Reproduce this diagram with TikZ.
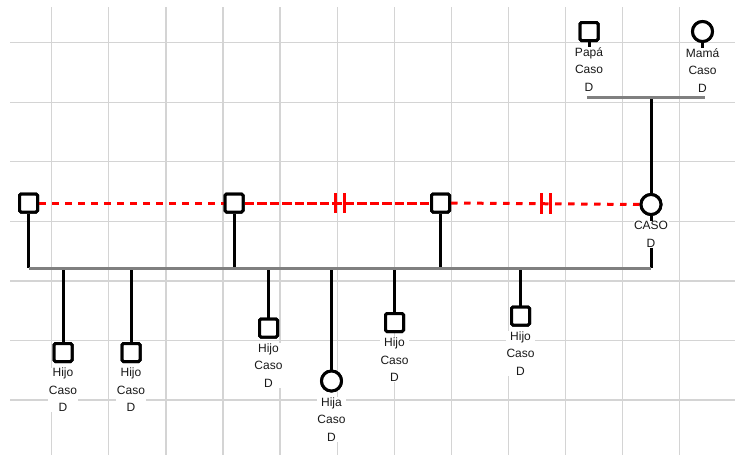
\documentclass[tikz,border=0pt]{standalone}
\usepackage{fontspec}
\setmainfont{Liberation Sans}
\definecolor{gridgray}{RGB}{212,212,212}
\definecolor{sibgray}{RGB}{128,128,128}
\definecolor{txt}{RGB}{25,25,25}
\begin{document}
\begin{tikzpicture}[x=1pt,y=-1pt,
  gridline/.style={draw=gridgray, line width=1.3pt},
  male/.style={rectangle, draw=black, line width=3pt, fill=white, minimum size=18pt, inner sep=0pt, rounded corners=1.5pt},
  female/.style={circle, draw=black, line width=3pt, fill=white, minimum size=20pt, inner sep=0pt},
  lbl/.style={fill=white, inner sep=0.5pt, align=center, text=txt, font=\fontsize{12}{17.5}\selectfont, below=4.5pt},
  conn/.style={draw=black, line width=3pt},
  sib/.style={draw=sibgray, line width=3pt},
  relA/.style={draw=red, line width=3pt, dash pattern=on 6.5pt off 6.5pt},
  relB/.style={draw=red, line width=3pt, dash pattern=on 9.5pt off 3pt},
  sepbar/.style={draw=red, line width=3pt}
]
\useasboundingbox[fill=white] (0,0) rectangle (735,455);
% grid
\foreach \k in {0,...,11} {
  \draw[gridline] ({51.7+57.1*\k},7) -- ({51.7+57.1*\k},455);
}
\foreach \k in {0,...,6} {
  \draw[gridline] (10,{42.7+59.55*\k}) -- (735,{42.7+59.55*\k});
}
% node positions
\coordinate (ps1) at (28.5,203);
\coordinate (ps2) at (234,203);
\coordinate (ps3) at (440.5,203);
\coordinate (pcaso) at (651,204.5);
\coordinate (ppapa) at (589,31.5);
\coordinate (pmama) at (702.5,31.5);
\coordinate (ph1) at (63,352.5);
\coordinate (ph2) at (131,352.5);
\coordinate (ph3) at (268.5,328);
\coordinate (phija) at (331.5,381);
\coordinate (ph4) at (394.5,322.5);
\coordinate (ph5) at (520.5,316);
% helper coordinates
\coordinate (sibL) at (28.5,268);
\coordinate (sibR) at (651,268);
\coordinate (parL) at (587,97);
\coordinate (parR) at (705,97);
\coordinate (parM) at (651,97);
\coordinate (papaStub) at (589,48);
\coordinate (mamaStub) at (702.5,48);
% nodes (shapes)
\node[male] (s1) at (ps1) {};
\node[male] (s2) at (ps2) {};
\node[male] (s3) at (ps3) {};
\node[female] (caso) at (pcaso) {};
\node[male] (papa) at (ppapa) {};
\node[female] (mama) at (pmama) {};
\node[male] (h1) at (ph1) {};
\node[male] (h2) at (ph2) {};
\node[male] (h3) at (ph3) {};
\node[female] (hija) at (phija) {};
\node[male] (h4) at (ph4) {};
\node[male] (h5) at (ph5) {};
% connectors
\draw[conn] (s1.south) -- (s1.south |- sibL);
\draw[conn] (s2.south) -- (s2.south |- sibL);
\draw[conn] (s3.south) -- (s3.south |- sibL);
\draw[conn] (caso.south) -- (sibR);
\draw[conn] (h1 |- sibL) -- (h1.north);
\draw[conn] (h2 |- sibL) -- (h2.north);
\draw[conn] (h3 |- sibL) -- (h3.north);
\draw[conn] (hija |- sibL) -- (hija.north);
\draw[conn] (h4 |- sibL) -- (h4.north);
\draw[conn] (h5 |- sibL) -- (h5.north);
\draw[sib] (sibL) -- (sibR);
\draw[conn] (papa.south) -- (papaStub);
\draw[conn] (mama.south) -- (mamaStub);
\draw[conn] (parM) -- (caso.north);
\draw[sib] (parL) -- (parR);
% partner lines
\draw[relA] (s1.east) -- (s2.west);
\draw[relB] (s2.east) -- (s3.west);
\draw[relA] (s3.east) -- (caso.west);
\coordinate (b1a) at (335,193);
\coordinate (b1b) at (344,193);
\coordinate (b2a) at (541.5,193);
\coordinate (b2b) at (550.5,193);
\draw[sepbar] (b1a) -- ++(0,20);
\draw[sepbar] (b1b) -- ++(0,20);
\draw[sepbar] (b2a) -- ++(0,21);
\draw[sepbar] (b2b) -- ++(0,21);
% redraw shapes over lines
\node[male] at (s1) {};
\node[male] at (s2) {};
\node[male] at (s3) {};
\node[female] at (caso) {};
\node[male] at (papa) {};
\node[female] at (mama) {};
\node[male] at (h1) {};
\node[male] at (h2) {};
\node[male] at (h3) {};
\node[female] at (hija) {};
\node[male] at (h4) {};
\node[male] at (h5) {};
% labels
\node[lbl] (lpapa) at (papa.south) {Papá\\Caso\\D};
\node[lbl] (lmama) at (mama.south) {Mamá\\Caso\\D};
\node[lbl] (lcaso) at (caso.south) {CASO\\D};
\node[lbl] (lh1) at (h1.south) {Hijo\\Caso\\D};
\node[lbl] (lh2) at (h2.south) {Hijo\\Caso\\D};
\node[lbl] (lh3) at (h3.south) {Hijo\\Caso\\D};
\node[lbl] (lhija) at (hija.south) {Hija\\Caso\\D};
\node[lbl] (lh4) at (h4.south) {Hijo\\Caso\\D};
\node[lbl] (lh5) at (h5.south) {Hijo\\Caso\\D};
\end{tikzpicture}
\end{document}
